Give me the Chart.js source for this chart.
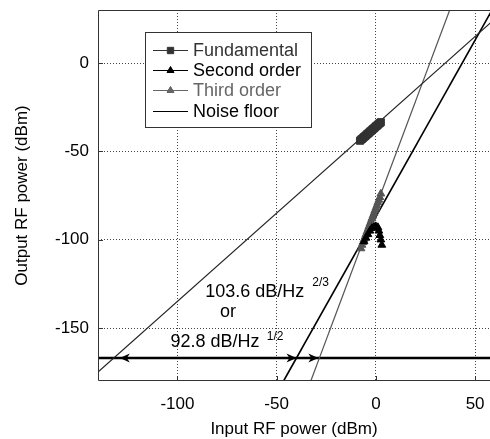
<!DOCTYPE html>
<html>
<head>
<meta charset="utf-8">
<script src="https://cdn.jsdelivr.net/npm/chart.js@4.4.1/dist/chart.umd.min.js"></script>
<style>
  html, body { margin: 0; padding: 0; background: #fff; }
</style>
</head>
<body>
<canvas id="rfChart" width="490" height="439"></canvas>
<script>
// ======== Data ========
const xTickValues = [-100, -50, 0, 50];
const yTickValues = [0, -50, -100, -150];

// measured points
const fundX = [-8, -7.5, -7, -6.5, -6, -5.5, -5, -4.5, -4, -3.5, -3, -2.5, -2, -1.5, -1, -0.5, 0, 0.5, 1, 1.5, 2, 2.5];
const fundY = [-44, -43.4, -43, -42.5, -41.9, -41.5, -41, -40.4, -40, -39.5, -38.9, -38.5, -38, -37.4, -37, -36.5, -35.9, -35.5, -35, -34.4, -34, -33.5];

const secondX = [-6, -5, -4, -3, -2, -1, 0, 1, 1.5, 2, 2.5, 3];
const secondY = [-101, -99, -97, -95, -93.5, -93, -92.5, -93, -95, -97.5, -100, -103];

const thirdX = [-7.5, -7, -6.5, -6, -5.5, -5, -4.5, -4, -3.5, -3, -2.5, -2, -1.5, -1, -0.5, 0, 0.5, 1, 1.5, 2, 2.5];
const thirdY = [-105, -103, -101.5, -100, -98.5, -97, -95.5, -94, -92.5, -91, -89.5, -88, -86.5, -85, -83.5, -82, -80.5, -79, -77.5, -76, -74];

// fitted lines (end points)
const fundLineX = [-140, 60];
const fundLineY = [-175, 25];
const secondLineX = [-46.5, 58.5];
const secondLineY = [-180, 30];
const thirdLineX = [-32.8, 37.2];
const thirdLineY = [-180, 30];
const noiseX = [-140, 60];
const noiseY = [-167, -167];

// arrow tips on the noise floor
const arrowLeftX = [-129];
const arrowRightX = [-40, -29];

const legendLabels = ["Fundamental", "Second order", "Third order", "Noise floor"];

const FONT = "'Liberation Sans', Arial, sans-serif";

function pts(xs, ys) {
    return xs.map((x, i) => ({ x: x, y: ys[i] }));
}

function noPad(s) {
    s.paddingTop = 0;
    s.paddingBottom = 0;
    s.paddingLeft = 0;
    s.paddingRight = 0;
}

// ======== Frame, inner ticks, legend, annotations ========
const extrasPlugin = {
    id: "extras",
    afterDatasetsDraw(chart) {
        const ctx = chart.ctx;
        const a = chart.chartArea;
        const xs = chart.scales.x;
        const ys = chart.scales.y;
        ctx.save();

        // arrow heads
        ctx.fillStyle = "#000";
        const yn = ys.getPixelForValue(noiseY[0]);
        function arrow(tx, dir) {
            ctx.beginPath();
            ctx.moveTo(tx, yn);
            ctx.lineTo(tx + dir * 10, yn - 4.5);
            ctx.lineTo(tx + dir * 7, yn);
            ctx.lineTo(tx + dir * 10, yn + 4.5);
            ctx.closePath();
            ctx.fill();
        }
        arrowLeftX.forEach(v => arrow(xs.getPixelForValue(v), 1));
        arrowRightX.forEach(v => arrow(xs.getPixelForValue(v), -1));

        // frame
        ctx.strokeStyle = "#333";
        ctx.lineWidth = 1;
        ctx.beginPath();
        ctx.moveTo(a.right, a.top + 0.5);
        ctx.lineTo(a.left + 0.5, a.top + 0.5);
        ctx.lineTo(a.left + 0.5, a.bottom - 0.5);
        ctx.lineTo(a.right, a.bottom - 0.5);
        ctx.stroke();

        // inner tick marks
        ctx.beginPath();
        xTickValues.forEach(v => {
            const p = Math.round(xs.getPixelForValue(v)) + 0.5;
            ctx.moveTo(p, a.bottom);
            ctx.lineTo(p, a.bottom - 5);
        });
        yTickValues.forEach(v => {
            const p = Math.round(ys.getPixelForValue(v)) + 0.5;
            ctx.moveTo(a.left, p);
            ctx.lineTo(a.left + 5, p);
        });
        ctx.stroke();

        // annotations
        ctx.fillStyle = "#000";
        ctx.textBaseline = "middle";
        ctx.textAlign = "left";
        function txt(s, x, y, size) {
            ctx.font = size + "px " + FONT;
            ctx.fillText(s, xs.getPixelForValue(x), ys.getPixelForValue(y));
        }
        txt("103.6 dB/Hz", -86, -129.5, 18);
        txt("2/3", -32, -124.5, 12);
        txt("or", -78.5, -141, 18);
        txt("92.8 dB/Hz", -103.5, -158, 18);
        txt("1/2", -55, -155, 12);

        // legend
        const lx = 145.5, ly = 32.5, lw = 166, lh = 95;
        ctx.fillStyle = "#fff";
        ctx.fillRect(lx, ly, lw, lh);
        ctx.strokeStyle = "#333";
        ctx.strokeRect(lx, ly, lw, lh);
        const colors = ["#333", "#000", "#666", "#000"];
        const styles = ["rect", "triangle", "triangle", false];
        const rowY = [50, 70, 90, 111];
        legendLabels.forEach((lab, i) => {
            const y = rowY[i] + 0.5;
            ctx.strokeStyle = colors[i];
            ctx.lineWidth = 1;
            ctx.beginPath();
            ctx.moveTo(153, y);
            ctx.lineTo(188, y);
            ctx.stroke();
            if (styles[i]) {
                Chart.helpers.drawPoint(ctx, {
                    pointStyle: styles[i], radius: styles[i] === "rect" ? 4.5 : 4,
                    borderWidth: 1, rotation: 0
                }, 170.5, y);
                ctx.fillStyle = colors[i];
                ctx.fill();
            }
            ctx.fillStyle = colors[i];
            ctx.font = "18px " + FONT;
            ctx.textBaseline = "middle";
            ctx.fillText(lab, 193, y + 1);
        });
        ctx.restore();
    }
};

// ======== Chart ========
const ctx = document.getElementById("rfChart").getContext("2d");
const rfChart = new Chart(ctx, {
    type: "scatter",
    data: {
        datasets: [
            { label: "Second order", data: pts(secondX, secondY), pointStyle: "triangle", pointRadius: 4.5,
              backgroundColor: "#000", borderColor: "#000", borderWidth: 1 },
            { label: "Third order", data: pts(thirdX, thirdY), pointStyle: "triangle", pointRadius: 4.5,
              backgroundColor: "#555", borderColor: "#555", borderWidth: 1 },
            { label: "Fundamental", data: pts(fundX, fundY), pointStyle: "rect", pointRadius: 5,
              backgroundColor: "#333", borderColor: "#333", borderWidth: 1 },
            { label: "fund fit", data: pts(fundLineX, fundLineY), showLine: true, pointRadius: 0,
              borderColor: "#222", borderWidth: 1.2 },
            { label: "second fit", data: pts(secondLineX, secondLineY), showLine: true, pointRadius: 0,
              borderColor: "#000", borderWidth: 1.6 },
            { label: "third fit", data: pts(thirdLineX, thirdLineY), showLine: true, pointRadius: 0,
              borderColor: "#555", borderWidth: 1.2 },
            { label: "Noise floor", data: pts(noiseX, noiseY), showLine: true, pointRadius: 0,
              borderColor: "#000", borderWidth: 2.5 }
        ]
    },
    options: {
        responsive: false,
        animation: false,
        layout: { autoPadding: false, padding: { top: 10, right: 0, left: 0, bottom: 0 } },
        plugins: { legend: { display: false }, tooltip: { enabled: false } },
        scales: {
            x: {
                type: "linear", min: -140, max: 57.5,
                afterBuildTicks: s => { s.ticks = xTickValues.map(v => ({ value: v })); },
                afterFit: s => { s.height = 58; noPad(s); },
                grid: { color: "#444", drawTicks: true, tickLength: 13, tickColor: "rgba(0,0,0,0)", lineWidth: 1 },
                border: { display: false, dash: [1, 2] },
                ticks: { color: "#000", padding: 0, font: { family: FONT, size: 17 } },
                title: { display: true, text: "Input RF power (dBm)", color: "#000",
                         font: { family: FONT, size: 17 }, padding: { top: 0, bottom: -1 } }
            },
            y: {
                type: "linear", min: -180, max: 30,
                afterBuildTicks: s => { s.ticks = yTickValues.map(v => ({ value: v })); },
                afterFit: s => { s.width = 98; noPad(s); },
                grid: { color: "#444", drawTicks: false, lineWidth: 1 },
                border: { display: false, dash: [1, 2] },
                ticks: { color: "#000", padding: 9, font: { family: FONT, size: 17 } },
                title: { display: true, text: "Output RF power (dBm)", color: "#000",
                         font: { family: FONT, size: 17 }, padding: { top: 12, bottom: 0 } }
            }
        }
    },
    plugins: [extrasPlugin]
});
</script>
</body>
</html>
